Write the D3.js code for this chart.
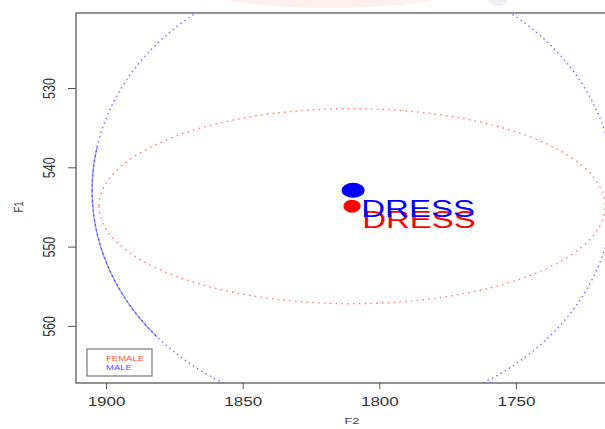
<!DOCTYPE html>
<html>
<head>
<meta charset="utf-8">
<script src="https://cdn.jsdelivr.net/npm/d3@7"></script>
<style>
  html, body { margin: 0; padding: 0; background: #fff; }
  svg { display: block; }
  text { font-family: "Liberation Sans", Arial, Helvetica, sans-serif; }
</style>
</head>
<body>
<svg id="chart" width="605" height="429"></svg>
<script>
// Vowel "DRESS": mean formants (F2, F1) per speaker group with ellipse radii
const groups   = ["FEMALE", "MALE"];
const colors   = ["#ff0000", "#0000ff"];
const meanF2   = [1810.0, 1809.6];
const meanF1   = [544.9, 542.9];
const radiusF2 = [92.6, 95.5];
const radiusF1 = [12.3, 28.0];
const vowel    = ["DRESS", "DRESS"];
const labelF2  = [1806.3, 1806.6];
const labelF1  = [546.6, 545.2];

const xTicks = [1900, 1850, 1800, 1750];
const yTicks = [530, 540, 550, 560];

const svg = d3.select("#chart");
const plot = { left: 76, right: 610, top: 13, bottom: 383 };
const stretch = 1.36;   // horizontal text stretch

// Both axes run backwards, as usual for vowel plots
const x = d3.scaleLinear().domain([1911.0, 1715.6]).range([plot.left, plot.right]);
const y = d3.scaleLinear().domain([520.54, 567.2]).range([plot.top, plot.bottom]);

// faint header decoration above the plot frame
const deco = svg.append("g");
deco.append("ellipse").attr("cx", 330).attr("cy", -8).attr("rx", 120).attr("ry", 16)
  .attr("fill", "#fdf0ef");
deco.append("circle").attr("cx", 498).attr("cy", -5).attr("r", 11).attr("fill", "#eef0f5");

svg.append("clipPath").attr("id", "plotClip")
  .append("rect")
  .attr("x", plot.left).attr("y", plot.top)
  .attr("width", plot.right - plot.left).attr("height", plot.bottom - plot.top);

const body = svg.append("g").attr("clip-path", "url(#plotClip)");

function ellipsePoints(i, t0, t1, n) {
  const pts = [];
  for (let k = 0; k <= n; k++) {
    const t = t0 + (t1 - t0) * k / n;
    pts.push([x(meanF2[i] + radiusF2[i] * Math.cos(t)), y(meanF1[i] + radiusF1[i] * Math.sin(t))]);
  }
  return pts;
}
const line = d3.line();

// dotted confidence ellipses
groups.forEach((g, i) => {
  body.append("path")
    .attr("d", line(ellipsePoints(i, 0, 2 * Math.PI, 720)) + "Z")
    .attr("fill", "none")
    .attr("stroke", colors[i])
    .attr("stroke-opacity", i === 0 ? 0.5 : 0.55)
    .attr("stroke-width", 1.4)
    .attr("stroke-dasharray", i === 0 ? "1.6 4.2" : "1.5 3.4");
});
// the male ellipse reads as nearly solid along its left flank (high F2 side)
body.append("path")
  .attr("d", line(ellipsePoints(1, -0.2, 0.72, 200)))
  .attr("fill", "none")
  .attr("stroke", colors[1])
  .attr("stroke-opacity", 0.42)
  .attr("stroke-width", 1.3);

// plot frame
svg.append("rect")
  .attr("x", plot.left).attr("y", plot.top)
  .attr("width", plot.right - plot.left).attr("height", plot.bottom - plot.top)
  .attr("fill", "none").attr("stroke", "#666").attr("stroke-width", 1.4);

// x axis
const xAxis = svg.append("g").attr("transform", `translate(0,${plot.bottom})`)
  .call(d3.axisBottom(x).tickValues(xTicks).tickSize(6).tickFormat(d3.format("d")));
xAxis.select(".domain").remove();
xAxis.selectAll(".tick line").attr("stroke", "#555");
xAxis.selectAll(".tick text")
  .attr("y", 0).attr("dy", 0)
  .attr("font-size", 12.5).attr("fill", "#333")
  .attr("transform", `translate(0,23) scale(${stretch},1)`);

// y axis
const yAxis = svg.append("g").attr("transform", `translate(${plot.left},0)`)
  .call(d3.axisLeft(y).tickValues(yTicks).tickSize(8).tickFormat(d3.format("d")));
yAxis.select(".domain").remove();
yAxis.selectAll(".tick line").attr("stroke", "#555");
yAxis.selectAll(".tick text")
  .attr("x", 0).attr("dy", 0).attr("y", 0)
  .attr("text-anchor", "middle")
  .attr("font-size", 12.5).attr("fill", "#333")
  .attr("transform", `translate(-21,0) scale(${stretch},1) rotate(-90)`);

// axis titles
svg.append("text")
  .attr("transform", `translate(${x(1810)},424) scale(${stretch},1)`)
  .attr("text-anchor", "middle").attr("font-size", 9.5).attr("fill", "#444")
  .text("F2");
svg.append("text")
  .attr("transform", `translate(23,${y(545)}) scale(${stretch},1) rotate(-90)`)
  .attr("text-anchor", "middle").attr("font-size", 9.5).attr("fill", "#444")
  .text("F1");

// group means and vowel labels
const pointSize = [[8.5, 6.5], [11.5, 7.5]];
groups.forEach((g, i) => {
  svg.append("ellipse")
    .attr("cx", x(meanF2[i])).attr("cy", y(meanF1[i]))
    .attr("rx", pointSize[i][0]).attr("ry", pointSize[i][1])
    .attr("fill", colors[i]);
  svg.append("text")
    .attr("transform", `translate(${x(labelF2[i])},${y(labelF1[i])}) scale(${stretch * 1.01},1)`)
    .attr("dy", "0.36em")
    .attr("font-size", 24)
    .attr("fill", colors[i])
    .text(vowel[i]);
});

// legend
const lg = svg.append("g").attr("transform", "translate(87,349)");
lg.append("rect").attr("width", 65).attr("height", 27)
  .attr("fill", "#fff").attr("stroke", "#777").attr("stroke-width", 1.2);
groups.forEach((g, i) => {
  lg.append("text")
    .attr("transform", `translate(19,${11.5 + i * 9.5}) scale(${stretch},1)`)
    .attr("font-size", 7).attr("fill", colors[i]).attr("fill-opacity", 0.75)
    .text(g);
});
</script>
</body>
</html>
